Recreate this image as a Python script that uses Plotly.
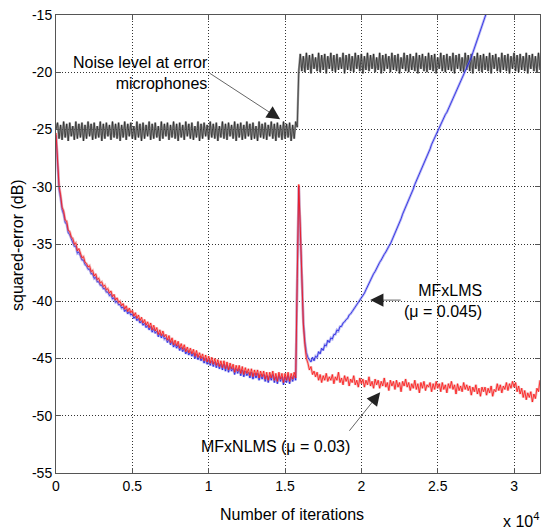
import numpy as np
import plotly.graph_objects as go

# ---------------- data ----------------
STEP = 100  # iterations between samples

x_tick_vals = [0, 5000, 10000, 15000, 20000, 25000, 30000]
x_tick_text = ["0", "0.5", "1", "1.5", "2", "2.5", "3"]
y_tick_vals = [-55, -50, -45, -40, -35, -30, -25, -20, -15]
y_tick_text = ["-55", "-50", "-45", "-40", "-35", "-30", "-25", "-20", "-15"]

noise_level_db = [
    -25.0, -24.4, -25.8, -24.6, -25.9, -24.3, -25.7, -24.5, -26.0, -24.4,
    -25.6, -24.7, -25.9, -24.3, -25.8, -24.5, -25.7, -24.4, -26.0, -24.6,
    -25.8, -24.3, -25.6, -24.5, -25.9, -24.4, -25.8, -24.7, -25.7, -24.3,
    -26.0, -24.5, -25.8, -24.4, -25.6, -24.6, -25.9, -24.3, -25.7, -24.5,
    -25.8, -24.4, -26.0, -24.6, -25.7, -24.3, -25.9, -24.5, -25.6, -24.4,
    -25.8, -24.7, -25.9, -24.3, -25.7, -24.5, -26.0, -24.4, -25.8, -24.6,
    -25.6, -24.3, -25.9, -24.5, -25.8, -24.4, -25.7, -24.7, -26.0, -24.3,
    -25.8, -24.5, -25.6, -24.4, -25.9, -24.6, -25.7, -24.3, -25.8, -24.5,
    -26.0, -24.4, -25.7, -24.6, -25.9, -24.3, -25.6, -24.5, -25.8, -24.4,
    -25.9, -24.7, -25.7, -24.3, -26.0, -24.5, -25.8, -24.4, -25.6, -24.6,
    -25.9, -24.3, -25.7, -24.5, -25.8, -24.4, -26.0, -24.7, -25.7, -24.3,
    -25.8, -24.5, -25.9, -24.4, -25.6, -24.6, -25.8, -24.3, -26.0, -24.5,
    -25.7, -24.4, -25.9, -24.6, -25.8, -24.3, -25.6, -24.5, -25.9, -24.4,
    -25.8, -24.7, -26.0, -24.3, -25.7, -24.5, -25.8, -24.4, -25.9, -24.6,
    -25.6, -24.3, -25.8, -24.5, -26.0, -24.4, -25.7, -24.6, -25.9, -24.3,
    -25.8, -24.5, -25.7, -24.4, -26.0, -24.6, -25.8, -24.3,
    -24.8, -19.9,
    -18.4, -19.9, -18.6, -20.0, -18.3, -19.8, -18.5, -20.1, -18.4, -19.7,
    -18.7, -19.9, -18.3, -20.0, -18.5, -19.8, -18.4, -20.1, -18.6, -19.7,
    -18.3, -19.9, -18.5, -20.0, -18.4, -19.8, -18.7, -19.7, -18.3, -20.1,
    -18.5, -19.8, -18.4, -19.9, -18.6, -20.0, -18.3, -19.7, -18.5, -19.9,
    -18.4, -20.1, -18.6, -19.8, -18.3, -19.9, -18.5, -19.7, -18.4, -20.0,
    -18.7, -19.8, -18.3, -20.1, -18.5, -19.9, -18.4, -19.7, -18.6, -20.0,
    -18.3, -19.8, -18.5, -19.9, -18.4, -20.1, -18.7, -19.7, -18.3, -19.9,
    -18.5, -20.0, -18.4, -19.8, -18.6, -19.9, -18.3, -20.1, -18.5, -19.7,
    -18.4, -19.9, -18.6, -20.0, -18.3, -19.8, -18.5, -19.9, -18.4, -20.1,
    -18.7, -19.7, -18.3, -19.9, -18.5, -20.0, -18.4, -19.8, -18.6, -19.9,
    -18.3, -20.1, -18.5, -19.7, -18.4, -19.9, -18.7, -20.0, -18.3, -19.8,
    -18.5, -19.9, -18.4, -20.1, -18.6, -19.7, -18.3, -19.9, -18.5, -20.0,
    -18.4, -19.8, -18.6, -19.9, -18.3, -20.1, -18.5, -19.7, -18.4, -19.9,
    -18.7, -20.0, -18.3, -19.8, -18.5, -19.9, -18.4, -20.1, -18.6, -19.7,
    -18.3, -19.9, -18.5, -20.0, -18.4, -19.8, -18.6, -19.9, -18.3, -20.1,
    -18.5, -19.7, -18.4, -19.9, -18.6, -20.0, -18.3, -19.8,
]

mfxlms_db = [
    -25.5, -28.5, -30.2, -31.0, -32.0, -32.4, -33.1, -33.3, -34.0, -34.2,
    -34.6, -34.8, -35.2, -35.2, -35.8, -35.7, -36.1, -36.4, -36.4, -36.8,
    -36.9, -37.2, -37.2, -37.6, -37.6, -38.0, -37.9, -38.3, -38.3, -38.6,
    -38.6, -38.9, -38.9, -39.2, -39.2, -39.5, -39.4, -39.8, -39.7, -40.1,
    -40.0, -40.3, -40.3, -40.6, -40.5, -40.9, -40.7, -41.1, -40.9, -41.2,
    -41.1, -41.5, -41.3, -41.7, -41.5, -41.9, -41.7, -42.1, -41.9, -42.3,
    -42.1, -42.5, -42.2, -42.7, -42.4, -42.8, -42.6, -43.1, -42.8, -43.2,
    -42.9, -43.3, -43.2, -43.6, -43.3, -43.8, -43.5, -44.0, -43.7, -44.1,
    -43.8, -44.3, -44.0, -44.4, -44.1, -44.6, -44.3, -44.7, -44.4, -44.8,
    -44.5, -45.0, -44.6, -45.1, -44.8, -45.2, -44.9, -45.4, -45.0, -45.5,
    -45.1, -45.6, -45.2, -45.7, -45.3, -45.8, -45.4, -45.9, -45.5, -46.0,
    -45.5, -46.1, -45.6, -46.2, -45.7, -46.1, -45.8, -46.4, -45.9, -46.3,
    -45.9, -46.5, -46.0, -46.6, -46.1, -46.5, -46.2, -46.7, -46.2, -46.8,
    -46.3, -46.7, -46.3, -46.9, -46.4, -46.8, -46.4, -47.0, -46.5, -47.1,
    -46.5, -46.9, -46.4, -47.1, -46.6, -47.2, -46.5, -47.0, -46.6, -47.3,
    -46.6, -47.1, -46.5, -47.2, -46.6, -47.0, -46.5, -46.9,
    -38.0, -30.0, -33.8, -37.5, -41.8, -43.5, -44.5, -44.9, -45.1, -45.3, -44.9, -45.2,
    -44.8, -44.9, -44.4, -44.6, -44.1, -44.3, -43.8, -43.9, -43.4, -43.6,
    -43.2, -43.3, -42.9, -42.9, -42.5, -42.6, -42.2, -42.2, -41.9, -41.8,
    -41.6, -41.5, -41.2, -41.1, -40.9, -40.7, -40.5, -40.4, -40.1, -40.0,
    -39.8, -39.5, -39.3, -39.0, -38.7, -38.5, -38.2, -37.9, -37.6, -37.4,
    -37.1, -36.9, -36.6, -36.4, -36.1, -35.9, -35.7, -35.4, -35.2, -35.0,
    -34.7, -34.4, -34.1, -33.8, -33.4, -33.1, -32.8, -32.4, -32.1, -31.8,
    -31.5, -31.2, -30.8, -30.5, -30.2, -29.8, -29.5, -29.2, -28.9, -28.6,
    -28.3, -28.0, -27.6, -27.3, -27.0, -26.7, -26.3, -26.0, -25.7, -25.4,
    -25.1, -24.8, -24.6, -24.3, -24.0, -23.7, -23.5, -23.2, -22.9, -22.7,
    -22.4, -22.1, -21.8, -21.5, -21.2, -20.9, -20.6, -20.3, -20.0, -19.7,
    -19.4, -19.0, -18.7, -18.3, -17.9, -17.5, -17.1, -16.8, -16.4, -16.0,
    -15.6, -15.2, -14.8, -14.4, -14.0, -13.6,
]

mfxnlms_db = [
    -25.3, -28.2, -29.9, -30.7, -31.8, -32.1, -32.9, -33.0, -33.8, -33.9,
    -34.4, -34.5, -35.0, -34.9, -35.6, -35.4, -35.9, -36.2, -36.1, -36.6,
    -36.7, -37.0, -36.9, -37.4, -37.3, -37.8, -37.6, -38.1, -38.0, -38.4,
    -38.3, -38.7, -38.6, -39.0, -38.9, -39.3, -39.1, -39.6, -39.4, -39.9,
    -39.7, -40.1, -40.0, -40.4, -40.2, -40.7, -40.4, -40.9, -40.6, -41.0,
    -40.8, -41.3, -41.0, -41.5, -41.2, -41.7, -41.4, -41.9, -41.6, -42.1,
    -41.8, -42.3, -41.9, -42.5, -42.1, -42.6, -42.3, -42.9, -42.5, -43.0,
    -42.6, -43.1, -42.9, -43.4, -43.0, -43.6, -43.2, -43.8, -43.4, -43.9,
    -43.5, -44.1, -43.7, -44.2, -43.8, -44.4, -44.0, -44.5, -44.1, -44.6,
    -44.2, -44.8, -44.3, -44.9, -44.5, -45.0, -44.6, -45.2, -44.7, -45.3,
    -44.8, -45.4, -44.9, -45.5, -45.0, -45.6, -45.1, -45.7, -45.2, -45.8,
    -45.2, -45.9, -45.3, -46.0, -45.4, -45.9, -45.5, -46.2, -45.6, -46.1,
    -45.6, -46.3, -45.7, -46.4, -45.8, -46.3, -45.9, -46.5, -45.9, -46.6,
    -46.0, -46.5, -46.0, -46.7, -46.1, -46.6, -46.1, -46.8, -46.2, -46.9,
    -46.2, -46.7, -46.1, -46.9, -46.3, -47.0, -46.2, -46.8, -46.3, -47.1,
    -46.3, -46.9, -46.2, -47.0, -46.3, -46.8, -46.2, -46.7,
    -38.0, -29.8, -33.5, -37.3, -42.0, -43.8, -45.0, -45.4, -46.0, -45.7, -46.4, -46.1,
    -46.6, -46.2, -46.9, -46.4, -47.1, -46.5, -46.9, -46.3, -47.0, -46.6,
    -46.9, -46.4, -47.2, -46.6, -46.9, -46.2, -47.1, -46.7, -47.3, -46.5,
    -47.0, -46.6, -47.4, -46.8, -47.1, -46.5, -47.3, -46.9, -47.5, -46.7,
    -47.2, -46.8, -47.5, -46.9, -47.3, -46.6, -47.4, -47.0, -47.6, -46.8,
    -47.3, -46.9, -47.6, -47.0, -47.4, -46.7, -47.5, -47.1, -47.8, -46.9,
    -47.4, -47.0, -47.7, -46.9, -47.5, -47.1, -47.9, -47.0, -47.4, -46.8,
    -47.5, -47.1, -47.8, -47.2, -47.6, -46.9, -47.7, -47.2, -48.0, -47.1,
    -47.6, -47.0, -47.8, -47.3, -47.5, -47.1, -47.9, -47.2, -47.7, -47.0,
    -47.6, -47.2, -47.9, -47.1, -47.7, -47.3, -48.0, -47.2, -47.6, -47.0,
    -47.7, -47.3, -48.1, -47.2, -47.8, -47.4, -47.9, -47.1, -47.7, -47.3,
    -47.8, -47.4, -48.2, -47.5, -47.9, -47.3, -48.1, -47.6, -48.3, -47.5,
    -47.9, -47.5, -48.2, -47.6, -48.0, -47.4, -48.3, -47.7, -47.9, -47.2,
    -47.8, -47.3, -48.0, -47.4, -47.7, -47.1, -47.8, -47.2, -47.6, -47.0,
    -47.5, -47.1, -47.9, -47.4, -48.1, -47.6, -48.4, -47.8, -48.6, -48.0,
    -48.4, -47.9, -48.8, -48.1, -48.5, -47.6, -47.9, -46.9,
]

x_noise = np.arange(len(noise_level_db)) * STEP
x_lms = np.arange(len(mfxlms_db)) * STEP
x_nlms = np.arange(len(mfxnlms_db)) * STEP

FONT = "Liberation Sans, Arial, sans-serif"

fig = go.Figure()

# noise level at error microphones (grey halo + dark line)
fig.add_trace(go.Scatter(x=x_noise, y=noise_level_db, mode="lines",
                         line=dict(color="rgba(115,115,115,0.75)", width=2.2),
                         hoverinfo="skip"))
fig.add_trace(go.Scatter(x=x_noise, y=noise_level_db, mode="lines",
                         line=dict(color="rgba(10,10,10,0.9)", width=0.6)))

# MFxLMS (blue)
fig.add_trace(go.Scatter(x=x_lms, y=mfxlms_db, mode="lines",
                         line=dict(color="rgba(120,120,235,0.5)", width=2.6),
                         hoverinfo="skip"))
fig.add_trace(go.Scatter(x=x_lms, y=mfxlms_db, mode="lines",
                         line=dict(color="#1a1ae0", width=0.8)))

# MFxNLMS (red)
fig.add_trace(go.Scatter(x=x_nlms, y=mfxnlms_db, mode="lines",
                         line=dict(color="rgba(225,120,120,0.5)", width=2.6),
                         hoverinfo="skip"))
fig.add_trace(go.Scatter(x=x_nlms, y=mfxnlms_db, mode="lines",
                         line=dict(color="#ff1010", width=0.8)))

axis_common = dict(
    showline=True, linecolor="#555555", linewidth=1, mirror="ticks",
    ticks="inside", ticklen=5, tickcolor="#555555",
    showgrid=True, gridcolor="#333333", gridwidth=1, griddash="1px,2px",
    zeroline=False, automargin=False,
    tickfont=dict(family=FONT, size=14, color="black"),
)

fig.update_xaxes(range=[0, 31700], tickmode="array", tickvals=x_tick_vals,
                 ticktext=x_tick_text, **axis_common)
fig.update_yaxes(range=[-55, -15], tickmode="array", tickvals=y_tick_vals,
                 ticktext=y_tick_text, **axis_common)

annot_font = dict(family=FONT, size=16, color="black")
arrow_style = dict(showarrow=True, arrowhead=2, arrowsize=3.8, arrowwidth=0.7,
                   arrowcolor="#222222", text="", xref="x", yref="y")

fig.update_layout(
    width=542, height=529,
    margin=dict(l=56, r=2, t=15, b=56),
    plot_bgcolor="white", paper_bgcolor="white",
    showlegend=False,
    font=dict(family=FONT, size=14, color="black"),
    annotations=[
        # texts
        dict(x=10092, y=-20.1, xref="x", yref="y", showarrow=False,
             text="Noise level at error<br>microphones", align="right",
             xanchor="right", yanchor="middle", font=annot_font),
        dict(x=28047, y=-40.0, xref="x", yref="y", showarrow=False,
             text="MFxLMS<br>(\u03bc = 0.045)", align="right",
             xanchor="right", yanchor="middle", font=annot_font),
        dict(x=14351, y=-52.7, xref="x", yref="y", showarrow=False,
             text="MFxNLMS (\u03bc = 0.03)", xanchor="center",
             yanchor="middle", font=annot_font),
        # arrows
        dict(x=14679, y=-24.1, ax=-72, ay=-47, **arrow_style),
        dict(x=20576, y=-39.9, ax=32, ay=0, **arrow_style),
        dict(x=21232, y=-47.95, ax=-32, ay=40, **arrow_style),
        # axis titles
        dict(x=-0.0785, y=0.498, xref="paper", yref="paper", showarrow=False,
             text="squared-error (dB)", textangle=-90, font=annot_font,
             xanchor="center", yanchor="middle"),
        dict(x=0.4876, y=-0.0917, xref="paper", yref="paper", showarrow=False,
             text="Number of iterations", font=annot_font,
             xanchor="center", yanchor="middle"),
        dict(x=1.002, y=-0.1026, xref="paper", yref="paper", showarrow=False,
             text="x 10<sup>4</sup>", font=annot_font,
             xanchor="right", yanchor="middle"),
    ],
)

fig.write_html("out.html",
               config={"displayModeBar": False},
               post_script="document.body.style.margin='0';"
                           "document.body.style.padding='0';")
